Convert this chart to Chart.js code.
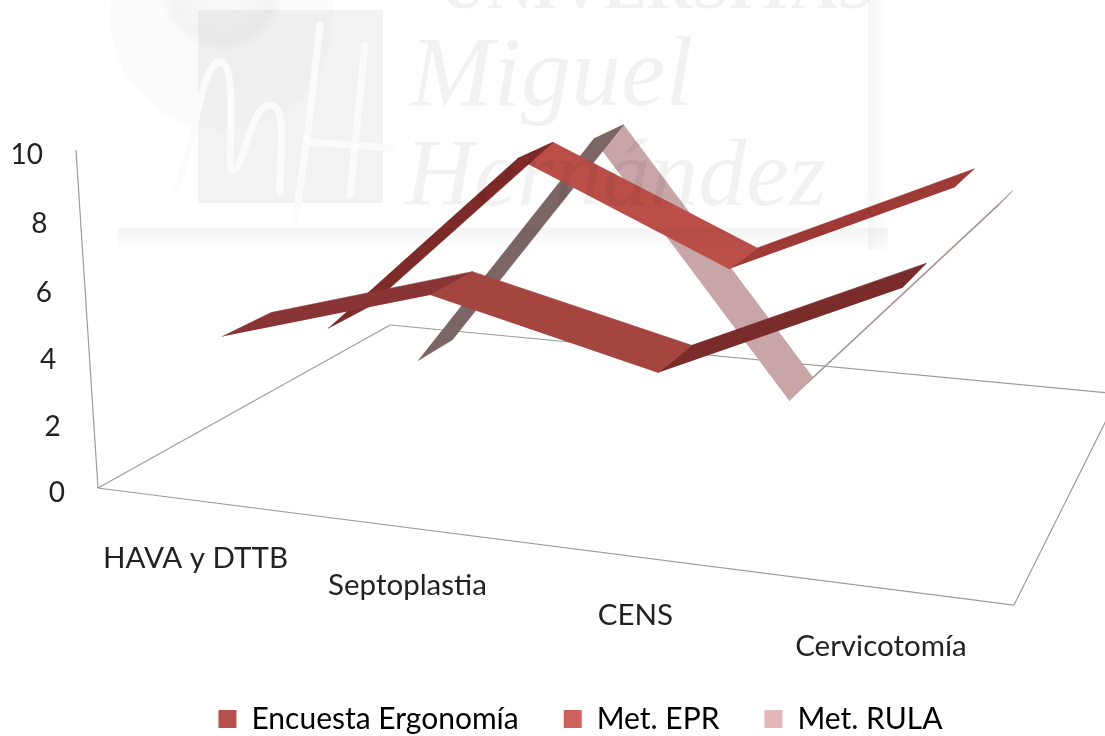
<!DOCTYPE html>
<html>
<head>
<meta charset="utf-8">
<title>Ergonomía</title>
<script src="https://cdn.jsdelivr.net/npm/chart.js@4"></script>
<style>
    html, body { margin: 0; padding: 0; background: #fff; }
    canvas { display: block; }
</style>
</head>
<body>
<canvas id="ribbonChart" width="1105" height="736"></canvas>
<script>
const categories = ['HAVA y DTTB', 'Septoplastia', 'CENS', 'Cervicotomía'];
const seriesNames = ['Encuesta Ergonomía', 'Met. EPR', 'Met. RULA'];
const encuestaValues = [4.4, 6.2, 4.6, 7.5];
const eprValues = [3.0, 8.9, 6.0, 8.9];
const rulaValues = [0.2, 8.4, 0.1, 7.0];
const yTicks = [0, 2, 4, 6, 8, 10];
const yMax = 10;

const seriesValues = [encuestaValues, eprValues, rulaValues];
const legendColors = ['#b5524d', '#cf625c', '#e4b8b8'];
// one shade per segment, the faces catch the light differently
const segmentColors = [
    ['#8a3535', '#a5453f', '#7a2c2a'],
    ['#7d2a28', '#bb4f48', '#a03a36'],
    ['#7b6565', '#c8a5a7', '#a88a8a']
];

const ribbonHalfDepth = 0.075;
const FONT = 'Lato, "Open Sans", sans-serif';

// Perspective camera: u along the categories, v into the depth, h up the value axis
function project(u, v, h) {
    const w = 1 - 0.1371 * u + 0.2763 * v - 0.03 * h;
    return {
        x: (777 * u + 400 * v - 24.3 * h + 98) / w,
        y: (34.1 * u - 73.2 * v - 342.5 * h + 488) / w
    };
}

function catU(i) {
    return (i + 0.5) / categories.length;
}

function seriesDepth(s) {
    return (s + 0.5) / seriesNames.length;
}

function ribbonSegment(s, k) {
    const front = seriesDepth(s) - ribbonHalfDepth;
    const back = seriesDepth(s) + ribbonHalfDepth;
    const values = seriesValues[s];
    return [
        project(catU(k), front, values[k] / yMax),
        project(catU(k), back, values[k] / yMax),
        project(catU(k + 1), back, values[k + 1] / yMax),
        project(catU(k + 1), front, values[k + 1] / yMax)
    ];
}

const datasets = [];

// first dataset ends up on top, so go from the front series to the back one
seriesNames.forEach((name, s) => {
    for (let k = 0; k < categories.length - 1; k++) {
        datasets.push({
            label: name,
            data: ribbonSegment(s, k),
            showLine: true,
            fill: 'shape',
            backgroundColor: segmentColors[s][k],
            borderColor: segmentColors[s][k],
            borderWidth: 0.6,
            pointRadius: 0,
            tension: 0
        });
    }
});

// walls and floor outline
const axisLines = [
    [project(0, 0, 0), project(0, 0, 1)],
    [project(0, 0, 0), project(1, 0, 0)],
    [project(0, 0, 0), project(0, 1, 0)],
    [project(0, 1, 0), project(1, 1, 0)],
    [project(1, 0, 0), project(1, 1, 0)]
];
axisLines.forEach(line => {
    datasets.push({
        label: 'axis',
        data: line,
        showLine: true,
        fill: false,
        borderColor: '#9c9c9c',
        borderWidth: 1.2,
        pointRadius: 0
    });
});

// University crest and lettering printed faintly across the page
const watermark = {
    id: 'watermark',
    afterDatasetsDraw(chart) {
        const ctx = chart.ctx;
        ctx.save();

        ctx.fillStyle = 'rgba(0,0,0,0.014)';
        ctx.beginPath();
        ctx.arc(222, 18, 112, 0, Math.PI * 2);
        ctx.fill();
        const glow = ctx.createRadialGradient(222, -10, 10, 222, -10, 62);
        glow.addColorStop(0, 'rgba(0,0,0,0.004)');
        glow.addColorStop(0.8, 'rgba(0,0,0,0.03)');
        glow.addColorStop(1, 'rgba(0,0,0,0)');
        ctx.fillStyle = glow;
        ctx.beginPath();
        ctx.arc(222, -10, 62, 0, Math.PI * 2);
        ctx.fill();

        ctx.fillStyle = 'rgba(0,0,0,0.05)';
        ctx.fillRect(198, 10, 185, 193);

        ctx.strokeStyle = '#fbfbfb';
        ctx.lineWidth = 7;
        ctx.lineJoin = 'round';
        ctx.lineCap = 'round';
        ctx.beginPath();
        ctx.moveTo(175, 190);
        ctx.bezierCurveTo(195, 150, 200, 62, 220, 62);
        ctx.bezierCurveTo(240, 62, 225, 170, 232, 170);
        ctx.bezierCurveTo(245, 170, 250, 105, 270, 105);
        ctx.bezierCurveTo(290, 105, 278, 170, 280, 192);
        ctx.moveTo(320, 25);
        ctx.lineTo(308, 130);
        ctx.lineTo(295, 222);
        ctx.moveTo(365, 45);
        ctx.lineTo(350, 195);
        ctx.moveTo(310, 142);
        ctx.lineTo(392, 148);
        ctx.stroke();

        ctx.fillStyle = 'rgba(0,0,0,0.055)';
        ctx.textAlign = 'left';
        ctx.textBaseline = 'alphabetic';
        ctx.font = 'italic 100px "Liberation Serif", serif';
        ctx.fillText('Miguel', 410, 105);
        ctx.font = 'italic 96px "Liberation Serif", serif';
        ctx.fillText('Hernández', 405, 205);
        ctx.font = 'bold 64px "Liberation Serif", serif';
        ctx.fillText('UNIVERSITAS', 440, 8);

        const band = ctx.createLinearGradient(0, 228, 0, 250);
        band.addColorStop(0, 'rgba(0,0,0,0.045)');
        band.addColorStop(1, 'rgba(0,0,0,0)');
        ctx.fillStyle = band;
        ctx.fillRect(118, 228, 770, 22);

        const edge = ctx.createLinearGradient(868, 0, 890, 0);
        edge.addColorStop(0, 'rgba(0,0,0,0.035)');
        edge.addColorStop(1, 'rgba(0,0,0,0)');
        ctx.fillStyle = edge;
        ctx.fillRect(868, 0, 22, 250);

        ctx.restore();
    }
};

// Tick and category labels sit along the slanted edges of the box
const edgeLabels = {
    id: 'edgeLabels',
    afterDraw(chart) {
        const ctx = chart.ctx;
        ctx.save();
        ctx.fillStyle = '#222';
        ctx.textBaseline = 'middle';

        ctx.font = '28px ' + FONT;
        ctx.textAlign = 'right';
        yTicks.forEach(tick => {
            const p = project(0, 0, tick / yMax);
            ctx.fillText(String(tick), p.x - 33, p.y + 5);
        });

        ctx.font = '29.5px ' + FONT;
        ctx.textAlign = 'center';
        categories.forEach((cat, i) => {
            const p = project(catU(i), 0, 0);
            ctx.fillText(cat, p.x - 3, p.y + 58);
        });
        ctx.restore();
    }
};

// Keeps the y scale at one unit per pixel, and puts the legend right of centre near the bottom
const legendPlacement = {
    id: 'legendPlacement',
    afterLayout(chart) {
        const y = chart.scales.y;
        y.min = 0;
        y.max = y.bottom - y.top;
        y.configure();

        const legend = chart.legend;
        legend.left += 28;
        legend.right += 28;
        legend.top = 659;
        legend.bottom = 736;
    }
};

new Chart(document.getElementById('ribbonChart'), {
    type: 'scatter',
    data: { datasets: datasets },
    plugins: [watermark, edgeLabels, legendPlacement],
    options: {
        responsive: false,
        animation: false,
        layout: { padding: 0 },
        scales: {
            x: { display: false, min: 0, max: 1105 },
            y: { display: false, reverse: true, min: 0, max: 736 }
        },
        plugins: {
            tooltip: { enabled: false },
            legend: {
                position: 'bottom',
                labels: {
                    boxWidth: 18,
                    boxHeight: 18,
                    padding: 45,
                    color: '#222',
                    font: { family: FONT, size: 30 },
                    generateLabels() {
                        return seriesNames.map((name, s) => ({
                            text: name,
                            fillStyle: legendColors[s],
                            strokeStyle: legendColors[s],
                            lineWidth: 0,
                            datasetIndex: s
                        }));
                    }
                }
            }
        }
    }
});
</script>
</body>
</html>
